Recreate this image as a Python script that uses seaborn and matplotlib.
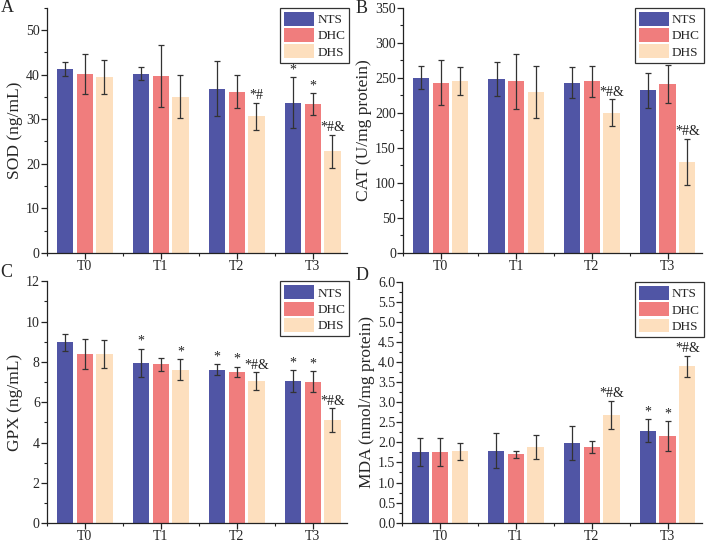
import numpy as np
import pandas as pd
import matplotlib
matplotlib.use('Agg')
import matplotlib.pyplot as plt
from matplotlib.container import BarContainer
from matplotlib.ticker import MultipleLocator, FormatStrFormatter
import seaborn as sns

sns.set_theme(style='ticks')
plt.rcParams['font.family'] = ['Liberation Serif', 'DejaVu Serif']

# ---- data ----
times = ['T0', 'T1', 'T2', 'T3']
groups = ['NTS', 'DHC', 'DHS']
colors = ['#5055A5', '#F07D7D', '#FDDFBE']

# rows: NTS, DHC, DHS ; columns: T0..T3
sod_mean = [[41.3, 40.2, 36.8, 33.7],
            [40.1, 39.7, 36.1, 33.4],
            [39.5, 35.0, 30.6, 22.8]]
sod_sd = [[1.6, 1.5, 6.2, 5.8],
          [4.5, 6.9, 3.7, 2.5],
          [3.8, 4.8, 3.1, 3.7]]
sod_mark = [['', '', '', '*'],
            ['', '', '', '*'],
            ['', '', '*#', '*#&']]

cat_mean = [[250, 248, 243, 232],
            [243, 245, 245, 241],
            [245, 229, 200, 130]]
cat_sd = [[16, 24, 22, 25],
          [32, 39, 22, 27],
          [20, 37, 19, 33]]
cat_mark = [['', '', '', ''],
            ['', '', '', ''],
            ['', '', '*#&', '*#&']]

gpx_mean = [[8.97, 7.96, 7.62, 7.05],
            [8.38, 7.88, 7.50, 7.02],
            [8.38, 7.62, 7.05, 5.10]]
gpx_sd = [[0.43, 0.70, 0.27, 0.55],
          [0.73, 0.33, 0.27, 0.53],
          [0.69, 0.50, 0.43, 0.60]]
gpx_mark = [['', '*', '*', '*'],
            ['', '', '*', '*'],
            ['', '*', '*#&', '*#&']]

mda_mean = [[1.75, 1.79, 1.99, 2.29],
            [1.76, 1.70, 1.88, 2.15],
            [1.78, 1.89, 2.69, 3.89]]
mda_sd = [[0.35, 0.44, 0.42, 0.29],
          [0.36, 0.08, 0.15, 0.37],
          [0.21, 0.30, 0.35, 0.27]]
mda_mark = [['', '', '', '*'],
            ['', '', '', '*'],
            ['', '', '*#&', '*#&']]

panels = [
    ('A', 'SOD (ng/mL)', sod_mean, sod_sd, sod_mark, 55, 10, 5, '%d'),
    ('B', 'CAT (U/mg protein)', cat_mean, cat_sd, cat_mark, 350, 50, 25, '%d'),
    ('C', 'GPX (ng/mL)', gpx_mean, gpx_sd, gpx_mark, 12, 2, 1, '%d'),
    ('D', 'MDA (nmol/mg protein)', mda_mean, mda_sd, mda_mark, 6, 0.5, 0.25, '%.1f'),
]

# axes rectangles [left, bottom, width, height] in figure fraction
rects = [[0.066, 0.536, 0.424, 0.450],
         [0.569, 0.536, 0.422, 0.450],
         [0.066, 0.040, 0.424, 0.444],
         [0.568, 0.041, 0.423, 0.442]]
letter_pos = [(0.001, 1.002), (0.502, 1.000), (0.001, 0.515), (0.502, 0.510)]

fig = plt.figure(figsize=(7.08, 5.45), dpi=100)

for (letter, ylabel, means, sds, marks, ymax, major, minor, fmt), rect, lp in zip(panels, rects, letter_pos):
    ax = fig.add_axes(rect)
    df = pd.DataFrame({
        'Time': [t for g in groups for t in times],
        'Group': [g for g in groups for t in times],
        'Value': [v for row in means for v in row],
    })
    sns.barplot(data=df, x='Time', y='Value', hue='Group', order=times, hue_order=groups,
                palette=colors, saturation=1, width=0.78, gap=0.17, errorbar=None,
                linewidth=0, ax=ax)

    # error bars and significance marks on each bar
    bar_conts = [c for c in ax.containers if isinstance(c, BarContainer)]
    for gi, cont in enumerate(bar_conts):
        for ti, bar in enumerate(cont.patches):
            xc = bar.get_x() + bar.get_width() / 2
            h = bar.get_height()
            ax.errorbar(xc, h, yerr=sds[gi][ti], fmt='none', ecolor='#333333',
                        elinewidth=0.9, capsize=2.3, capthick=0.9)
            if marks[gi][ti]:
                ax.annotate(marks[gi][ti], (xc, h + sds[gi][ti]), xytext=(0, 0.5),
                            textcoords='offset points', ha='center', va='bottom',
                            fontsize=10, color='#222222')

    ax.set_xlim(-0.5, 3.45)
    ax.set_ylim(0, ymax)
    ax.yaxis.set_major_locator(MultipleLocator(major))
    ax.yaxis.set_minor_locator(MultipleLocator(minor))
    ax.yaxis.set_major_formatter(FormatStrFormatter(fmt))
    ax.xaxis.set_minor_locator(MultipleLocator(0.5))
    ax.set_xlabel('')
    ax.set_ylabel(ylabel, fontsize=12.5, labelpad=2)
    ax.tick_params(axis='both', which='major', direction='out', length=4, width=0.9,
                   labelsize=10, color='#222222', pad=1)
    ax.tick_params(axis='both', which='minor', direction='out', length=2.2, width=0.8,
                   color='#222222')
    sns.despine(ax=ax)
    for s in ['left', 'bottom']:
        ax.spines[s].set_linewidth(0.9)
        ax.spines[s].set_color('#222222')

    handles, labels = ax.get_legend_handles_labels()
    ax.legend(handles, labels, loc='upper right', bbox_to_anchor=(1.008, 1.0),
              frameon=True, fancybox=False, edgecolor='#333333', framealpha=1,
              fontsize=9.5, handlelength=2.25, handleheight=1.25, labelspacing=0.15,
              borderpad=0.3, handletextpad=0.25, borderaxespad=0)
    ax.get_legend().get_frame().set_linewidth(0.9)

    fig.text(lp[0], lp[1], letter, fontsize=13, va='top', ha='left')

plt.savefig('out.png', dpi=100)
plt.close()
